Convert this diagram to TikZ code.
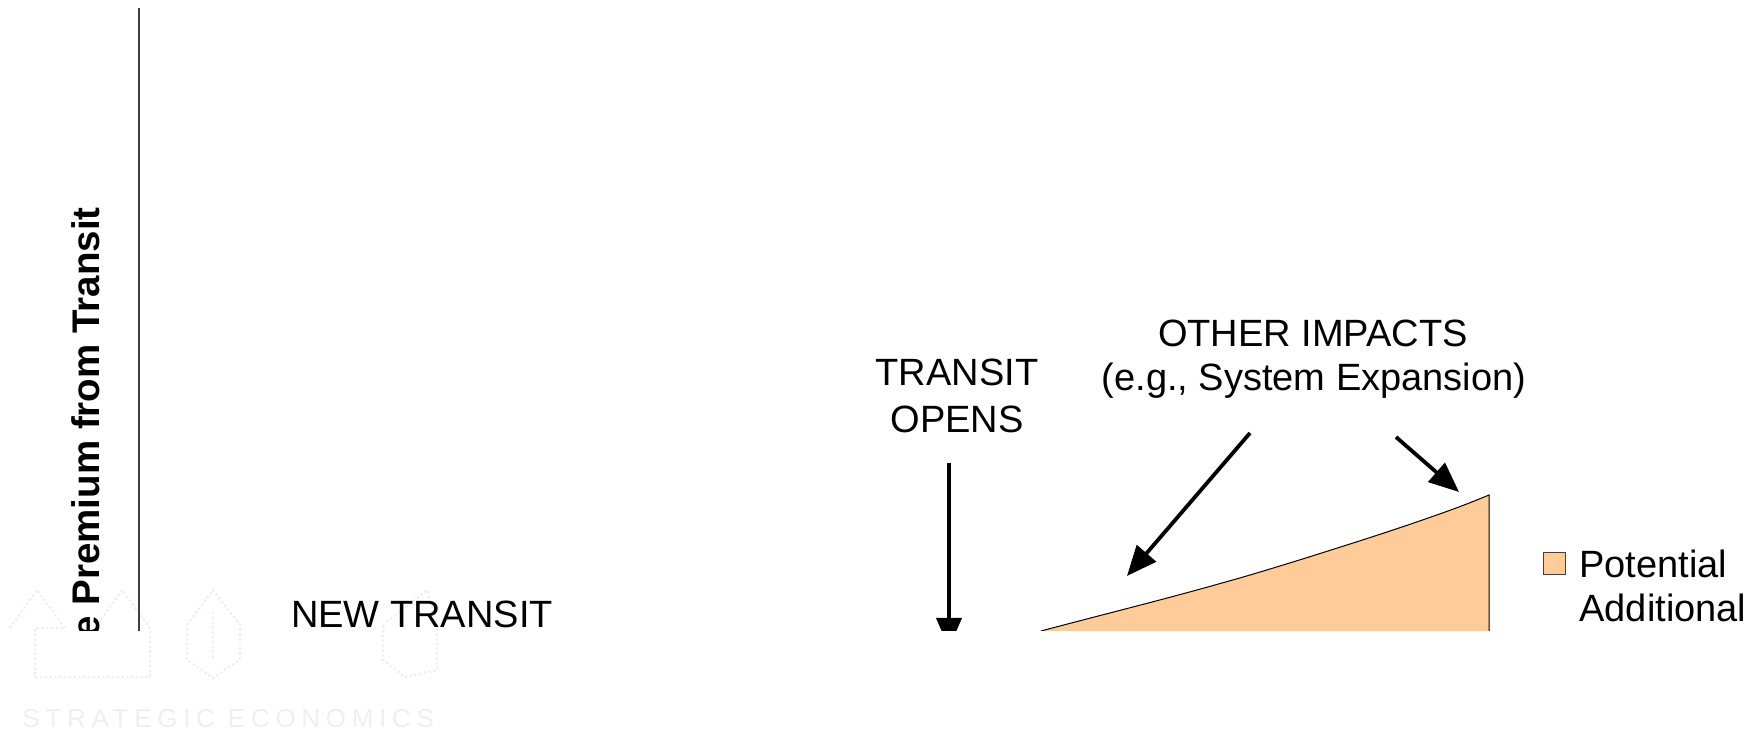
\documentclass[tikz,border=0pt]{standalone}
\usepackage{fontspec}
\setmainfont{Liberation Sans}
\usetikzlibrary{arrows.meta}
\definecolor{peach}{HTML}{FFCC99}
\definecolor{wmark}{HTML}{EFEFEF}
\tikzset{
  lab/.style={inner sep=0pt,font=\fontsize{19}{23}\selectfont,text=black},
  ptr/.style={draw=black,line width=1.9pt,-{Triangle[length=15pt,width=12.5pt]}},
  wmline/.style={draw=wmark,line width=1.1pt,dash pattern=on 1.2pt off 1.2pt},
}
\begin{document}
\begin{tikzpicture}[x=0.5pt,y=-0.5pt]
\useasboundingbox (0,0) rectangle (1762,731);
% faint watermark
\draw[wmline] (10,628) -- (37,590) -- (65,628) -- (35,628) -- (35,677) -- (150,677) -- (150,628) -- (122,590) -- (95,628);
\draw[wmline] (187,625) -- (213,590) -- (240,625) -- (240,660) -- (213,678) -- (187,660) -- cycle;
\draw[wmline] (213,612) -- (213,660);
\draw[wmline] (383,625) -- (427,590) -- (437,625) -- (437,670) -- (405,677) -- (383,660) -- cycle;
\node[inner sep=0pt,anchor=base west,text=wmark,font=\fontsize{13}{15}\selectfont\addfontfeature{LetterSpace=22}] (wmtext) at (22,727) {STRATEGIC ECONOMICS};
\begin{scope}
\clip (0,0) rectangle (1762,631);
\draw[draw=black!75,line width=0.6pt] (139,8) -- (139,640);
\node[lab,font=\fontsize{19.25}{23}\selectfont\bfseries,rotate=90,anchor=base east] (ylab) at (99,207) {e Premium from Transit};
\coordinate (a1s) at (949,463); \coordinate (a1e) at (949,648);
\draw[ptr] (a1s) -- (a1e);
\draw[draw=black,line width=0.5pt,fill=peach] (1041,631) .. controls (1101,615) and (1162,600) .. (1222,583) .. controls (1251,575) and (1280,566) .. (1309,557) .. controls (1350,544) and (1390,531.5) .. (1431,517) .. controls (1450,510.5) and (1470,503) .. (1489,495) -- (1489,640) -- (1041,640) -- cycle;
\end{scope}
\coordinate (a2s) at (1250,433); \coordinate (a2e) at (1127,576);
\coordinate (a3s) at (1396,437); \coordinate (a3e) at (1459,492);
\draw[ptr] (a2s) -- (a2e);
\draw[ptr] (a3s) -- (a3e);
\node[lab,anchor=base] (topen) at (957,386) {TRANSIT};
\node[lab,anchor=base] (topen2) at (957,433) {OPENS};
\node[lab,anchor=base] (other) at (1313,347) {OTHER IMPACTS};
\node[lab,anchor=base] (other2) at (1314,391) {(e.g., System Expansion)};
\node[lab,anchor=base] (newt) at (422,628) {NEW TRANSIT};
\node[draw=black!75,line width=0.5pt,fill=peach,minimum width=11pt,minimum height=11pt,inner sep=0pt] (leg) at (1554.5,563.5) {};
\node[lab,anchor=base west] (pot) at (1579,578) {Potential};
\node[lab,anchor=base west] (add) at (1579,622) {Additional};
\end{tikzpicture}
\end{document}
